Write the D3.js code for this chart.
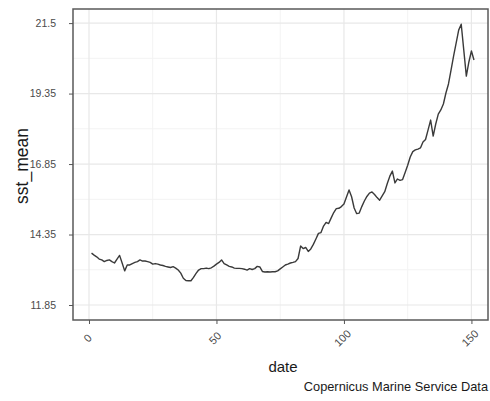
<!DOCTYPE html>
<html>
<head>
<meta charset="utf-8">
<script src="https://cdn.jsdelivr.net/npm/d3@7/dist/d3.min.js"></script>
<style>
  html, body { margin: 0; padding: 0; background: #fff; }
  svg { display: block; font-family: "Liberation Sans", Arial, sans-serif; }
</style>
</head>
<body>
<svg id="chart" width="490" height="401"></svg>
<script>
// Daily mean sea surface temperature, day index vs sst_mean
const days = d3.range(1, 152);
const sstMean = [
  13.69, 13.62, 13.56, 13.48, 13.45, 13.39, 13.43, 13.45, 13.39, 13.34,
  13.48, 13.61, 13.34, 13.06, 13.27, 13.27, 13.32, 13.36, 13.39, 13.45,
  13.41, 13.41, 13.39, 13.36, 13.30, 13.32, 13.30, 13.27, 13.25, 13.22,
  13.20, 13.18, 13.21, 13.16, 13.09, 12.98, 12.80, 12.72, 12.71, 12.71,
  12.83, 12.97, 13.09, 13.14, 13.14, 13.16, 13.14, 13.17, 13.23, 13.30,
  13.36, 13.45, 13.32, 13.27, 13.22, 13.20, 13.16, 13.15, 13.15, 13.14,
  13.12, 13.09, 13.14, 13.11, 13.14, 13.22, 13.20, 13.04, 13.02, 13.03,
  13.02, 13.03, 13.03, 13.06, 13.13, 13.20, 13.27, 13.30, 13.34, 13.36,
  13.39, 13.50, 13.94, 13.85, 13.89, 13.75, 13.84, 14.00, 14.19, 14.39,
  14.42, 14.65, 14.78, 14.74, 14.94, 15.13, 15.27, 15.28, 15.34, 15.43,
  15.68, 15.93, 15.69, 15.29, 15.09, 15.11, 15.34, 15.54, 15.70, 15.82,
  15.86, 15.77, 15.66, 15.57, 15.72, 15.87, 16.16, 16.42, 16.60, 16.18,
  16.32, 16.27, 16.30, 16.55, 16.81, 17.10, 17.29, 17.35, 17.38, 17.42,
  17.63, 17.72, 18.06, 18.41, 17.84, 18.27, 18.62, 18.77, 18.98, 19.37,
  19.69, 20.18, 20.68, 21.14, 21.60, 21.81, 20.89, 19.97, 20.47, 20.86,
  20.54
];

const xTicks = [0, 50, 100, 150];
const xMinor = [25, 75, 125];
const yTicks = [11.85, 14.35, 16.85, 19.35, 21.85];
const yTickLabels = ["11.85", "14.35", "16.85", "19.35", "21.5"];
const yMinor = [13.1, 15.6, 18.1, 20.6];

const data = days.map((d, i) => ({ day: d, sst: sstMean[i] }));

const panel = { left: 73, right: 488, top: 9, bottom: 320 };

const x = d3.scaleLinear().domain([-6.27, 156.5]).range([panel.left, panel.right]);
const y = d3.scaleLinear().domain([11.318, 22.35]).range([panel.bottom, panel.top]);

const svg = d3.select("#chart");

// grid lines
const grid = svg.append("g");
grid.selectAll("line.ymin").data(yMinor).join("line")
  .attr("x1", panel.left).attr("x2", panel.right)
  .attr("y1", d => y(d)).attr("y2", d => y(d))
  .attr("stroke", "#f3f3f3").attr("stroke-width", 1);
grid.selectAll("line.xmin").data(xMinor).join("line")
  .attr("y1", panel.top).attr("y2", panel.bottom)
  .attr("x1", d => x(d)).attr("x2", d => x(d))
  .attr("stroke", "#f3f3f3").attr("stroke-width", 1);
grid.selectAll("line.ymaj").data(yTicks).join("line")
  .attr("x1", panel.left).attr("x2", panel.right)
  .attr("y1", d => y(d)).attr("y2", d => y(d))
  .attr("stroke", "#e8e8e8").attr("stroke-width", 1.2);
grid.selectAll("line.xmaj").data(xTicks).join("line")
  .attr("y1", panel.top).attr("y2", panel.bottom)
  .attr("x1", d => x(d)).attr("x2", d => x(d))
  .attr("stroke", "#e8e8e8").attr("stroke-width", 1.2);

// the series
svg.append("path")
  .datum(data)
  .attr("fill", "none")
  .attr("stroke", "#3a3a3a")
  .attr("stroke-width", 1.4)
  .attr("stroke-linejoin", "round")
  .attr("d", d3.line().x(d => x(d.day)).y(d => y(d.sst)));

// panel border
svg.append("rect")
  .attr("x", panel.left).attr("y", panel.top)
  .attr("width", panel.right - panel.left)
  .attr("height", panel.bottom - panel.top)
  .attr("fill", "none").attr("stroke", "#5a5a5a").attr("stroke-width", 1.5);

// y axis
const yAxis = d3.axisLeft(y)
  .tickValues(yTicks)
  .tickSize(4)
  .tickPadding(13)
  .tickFormat((d, i) => yTickLabels[i]);
const gy = svg.append("g").attr("transform", `translate(${panel.left},0)`).call(yAxis);
gy.select(".domain").remove();
gy.selectAll(".tick line").attr("stroke", "#555");
gy.selectAll(".tick text")
  .attr("fill", "#4a4a4a")
  .style("font-size", "10.5px")
  .style("font-family", "'Liberation Sans', Arial, sans-serif");

// x axis
const xAxis = d3.axisBottom(x).tickValues(xTicks).tickSize(4).tickFormat(d3.format("d"));
const gx = svg.append("g").attr("transform", `translate(0,${panel.bottom})`).call(xAxis);
gx.select(".domain").remove();
gx.selectAll(".tick line").attr("stroke", "#555");
gx.selectAll(".tick text")
  .attr("fill", "#4a4a4a")
  .attr("y", 0).attr("dy", null)
  .attr("text-anchor", "middle")
  .attr("dominant-baseline", "central")
  .attr("transform", "translate(-2,18) rotate(-45)")
  .style("font-size", "11px")
  .style("font-family", "'Liberation Sans', Arial, sans-serif");

// axis titles
svg.append("text")
  .attr("x", 283).attr("y", 372)
  .attr("text-anchor", "middle")
  .attr("fill", "#1a1a1a")
  .style("font-size", "15px")
  .text("date");

svg.append("text")
  .attr("transform", "translate(28,166) rotate(-90)")
  .attr("text-anchor", "middle")
  .attr("fill", "#1a1a1a")
  .style("font-size", "17.5px")
  .text("sst_mean");

// caption
svg.append("text")
  .attr("x", 488).attr("y", 391)
  .attr("text-anchor", "end")
  .attr("fill", "#1a1a1a")
  .style("font-size", "12.8px")
  .text("Copernicus Marine Service Data");
</script>
</body>
</html>
